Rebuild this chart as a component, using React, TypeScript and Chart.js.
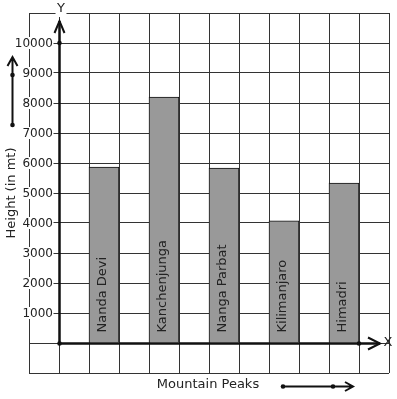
import { useEffect, useRef } from "react";
import { Chart, registerables } from "chart.js";

Chart.register(...registerables);

// ---- data ----
const peaks = ["Nanda Devi", "Kanchenjunga", "Nanga Parbat", "Kilimanjaro", "Himadri"];
const heights = [5860, 8200, 5830, 4070, 5330];
const yTickValues = [1000, 2000, 3000, 4000, 5000, 6000, 7000, 8000, 9000, 10000];
const yMin = -1000;
const yMax = 11000;
const columnCount = 12;
const firstPeakColumn = 2;
const xTitle = "Mountain Peaks";
const yTitle = "Height (in mt)";

const FONT = '"DejaVu Sans", sans-serif';

export default function App() {
  const ref = useRef<HTMLCanvasElement>(null);

  useEffect(() => {
    const canvas = ref.current!;
    const labels: string[] = [];
    const values: (number | null)[] = [];
    for (let c = 0; c < columnCount; c++) {
      labels.push("");
      values.push(null);
    }
    peaks.forEach((p, i) => {
      labels[firstPeakColumn + 2 * i] = p;
      values[firstPeakColumn + 2 * i] = heights[i];
    });

    const dot = (ctx: CanvasRenderingContext2D, x: number, y: number) => {
      ctx.beginPath();
      ctx.arc(x, y, 2.3, 0, Math.PI * 2);
      ctx.fill();
    };

    const deco = {
      id: "deco",
      afterDraw(chart: any) {
        const ctx: CanvasRenderingContext2D = chart.ctx;
        const xs = chart.scales.x;
        const ys = chart.scales.y;
        const area = chart.chartArea;
        const ox = Math.round((xs.getPixelForValue(0) + xs.getPixelForValue(1)) / 2) + 0.5;
        const oy = Math.round(ys.getPixelForValue(0)) + 0.5;
        const ink = "#111";

        ctx.save();
        // y tick labels with white background
        ctx.font = `12px ${FONT}`;
        ctx.textAlign = "right";
        ctx.textBaseline = "middle";
        yTickValues.forEach((v) => {
          const py = ys.getPixelForValue(v);
          const t = String(v);
          const w = ctx.measureText(t).width;
          ctx.fillStyle = "#fff";
          ctx.fillRect(ox - 6.5 - w - 1, py - 6, w + 1.5, 12);
          ctx.fillStyle = "#222";
          ctx.fillText(t, ox - 6.5, py + 0.5);
        });

        // bar labels
        ctx.font = `13px ${FONT}`;
        ctx.textAlign = "left";
        ctx.textBaseline = "middle";
        ctx.fillStyle = "#222";
        const meta = chart.getDatasetMeta(0);
        meta.data.forEach((el: any, i: number) => {
          if (values[i] == null) return;
          ctx.save();
          ctx.translate(el.x - 1, oy - 11);
          ctx.rotate(-Math.PI / 2);
          ctx.fillText(labels[i], 0, 0);
          ctx.restore();
        });

        // axes
        ctx.strokeStyle = ink;
        ctx.fillStyle = ink;
        ctx.lineWidth = 2.5;
        ctx.lineCap = "butt";
        ctx.beginPath();
        ctx.moveTo(ox, oy);
        ctx.lineTo(ox, area.top + 8);
        ctx.moveTo(ox, oy);
        ctx.lineTo(area.right - 9, oy);
        ctx.stroke();

        ctx.lineWidth = 2;
        ctx.lineJoin = "miter";
        // Y arrowhead
        ctx.beginPath();
        ctx.moveTo(ox - 5, area.top + 20);
        ctx.lineTo(ox, area.top + 8);
        ctx.lineTo(ox + 5, area.top + 20);
        ctx.stroke();
        // X arrowhead
        ctx.beginPath();
        ctx.moveTo(area.right - 21, oy - 6);
        ctx.lineTo(area.right - 9, oy);
        ctx.lineTo(area.right - 21, oy + 6);
        ctx.stroke();

        dot(ctx, ox, oy);
        dot(ctx, ox, ys.getPixelForValue(10000));
        dot(ctx, area.right - 30, oy);

        // axis letters
        ctx.font = `13px ${FONT}`;
        ctx.textAlign = "center";
        ctx.textBaseline = "middle";
        const wy = ctx.measureText("Y").width;
        ctx.fillStyle = "#fff";
        ctx.fillRect(ox + 1.5 - wy / 2 - 1.5, area.top - 4, wy + 3, 8);
        ctx.fillStyle = "#222";
        ctx.fillText("Y", ox + 1.5, area.top - 4);
        ctx.fillText("X", area.right - 1, oy - 1);

        // x title + arrow
        ctx.fillText(xTitle, 208, 385);
        ctx.fillStyle = ink;
        ctx.strokeStyle = ink;
        ctx.lineWidth = 2;
        ctx.beginPath();
        ctx.moveTo(283, 386.5);
        ctx.lineTo(352, 386.5);
        ctx.moveTo(345, 382);
        ctx.lineTo(353, 386.5);
        ctx.lineTo(345, 391);
        ctx.stroke();
        dot(ctx, 283, 386.5);
        dot(ctx, 333, 386.5);

        // y title + arrow
        ctx.save();
        ctx.fillStyle = "#222";
        ctx.translate(12, 193);
        ctx.rotate(-Math.PI / 2);
        ctx.fillText(yTitle, 0, 0);
        ctx.restore();
        ctx.beginPath();
        ctx.moveTo(12.5, 125);
        ctx.lineTo(12.5, 57);
        ctx.moveTo(7.5, 66);
        ctx.lineTo(12.5, 57);
        ctx.lineTo(17.5, 66);
        ctx.stroke();
        dot(ctx, 12.5, 125);
        dot(ctx, 12.5, 75);

        ctx.restore();
      },
    };

    const chart = new Chart(canvas, {
      type: "bar",
      data: {
        labels,
        datasets: [
          {
            data: values,
            backgroundColor: "#999999",
            borderColor: "#111",
            borderWidth: 1,
            barPercentage: 1,
            categoryPercentage: 1,
          },
        ],
      },
      options: {
        responsive: false,
        animation: false,
        devicePixelRatio: 1,
        layout: { padding: { left: 29, top: 13, right: 8, bottom: 26 } },
        plugins: { legend: { display: false }, tooltip: { enabled: false } },
        scales: {
          x: {
            type: "category",
            offset: true,
            grid: { offset: true, color: "#333", lineWidth: 1, drawTicks: false },
            border: { display: false },
            ticks: { display: false },
          },
          y: {
            min: yMin,
            max: yMax,
            ticks: { stepSize: 1000, display: false },
            grid: { color: "#333", lineWidth: 1, drawTicks: false },
            border: { display: false },
          },
        },
      },
      plugins: [deco],
    } as any);

    return () => chart.destroy();
  }, []);

  return (
    <canvas
      ref={ref}
      width={397}
      height={399}
      style={{ position: "fixed", left: 0, top: 0, width: 397, height: 399 }}
    />
  );
}
